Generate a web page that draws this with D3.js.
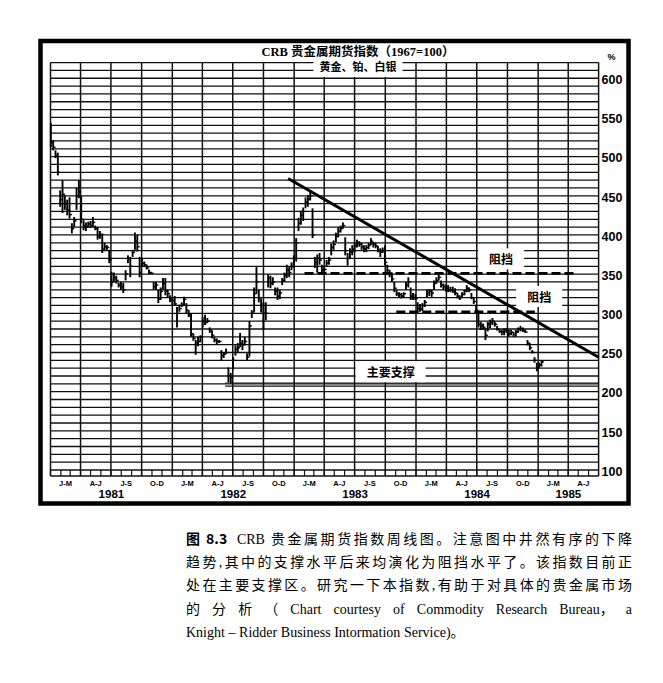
<!DOCTYPE html>
<html><head><meta charset="utf-8">
<script src="https://cdn.jsdelivr.net/npm/d3@7"></script>
<style>
html,body{margin:0;padding:0;background:#fff;}
svg{display:block;}
</style></head>
<body>
<svg id="c" width="663" height="683"></svg>
<script>
// ---------------- DATA ----------------
const title = "CRB 贵金属期货指数（1967=100）";
const subtitle = "黄金、铂、白银";
const firstWeek = "1981-01-02";   // weekly bars, one per week from here
const highs = [
543,521,508,505,457,470,451,445,448,415,
423,460,470,450,419,416,417,418,423,412,
410,405,402,390,387,381,353,352,348,339,
340,339,355,374,372,381,403,400,372,370,
366,362,356,353,340,340,330,333,345,345,
330,323,320,322,308,311,314,321,313,304,
300,274,266,270,272,295,298,294,282,278,
270,268,266,253,250,255,231,224,244,259,
262,275,266,270,249,290,304,333,359,330,
319,314,314,350,348,346,333,333,330,345,
352,362,359,365,374,396,422,431,435,448,
451,457,434,372,375,377,362,360,368,372,
389,393,403,410,412,416,397,377,383,387,
390,394,392,390,387,387,390,396,391,390,
386,383,384,387,362,355,352,340,330,327,
326,327,340,346,333,326,325,314,312,313,
317,330,331,330,342,346,351,342,338,337,
336,334,334,332,326,323,327,330,336,333,
326,320,311,300,289,287,281,289,292,294,
289,284,279,279,281,281,279,279,276,279,
282,284,282,279,266,262,253,244,237,237,
240];
const lows = [
512,508,498,476,436,428,432,425,421,402,
410,432,447,415,406,405,410,409,410,406,
394,395,377,381,381,364,334,340,338,333,
330,326,342,364,346,372,381,379,346,359,
360,356,350,350,330,330,313,317,330,323,
320,314,310,310,282,302,308,310,300,295,
270,265,247,258,263,282,285,288,275,268,
263,260,262,240,243,248,212,211,228,246,
250,257,253,259,240,245,294,301,325,314,
301,279,291,333,332,336,323,317,318,336,
340,345,346,355,358,366,405,413,418,434,
436,444,396,358,352,362,349,350,360,362,
374,381,391,397,403,408,374,361,370,374,
378,384,385,381,378,378,382,387,384,383,
378,372,377,361,350,346,340,327,322,320,
319,320,330,333,317,317,317,301,302,303,
308,320,322,321,330,338,342,333,330,328,
327,327,326,323,319,317,320,323,327,327,
318,312,300,282,279,279,266,277,281,285,
283,278,275,272,272,275,270,272,270,270,
275,277,276,275,259,253,249,237,226,230,
232];
const closes = [
518,512,502,480,445,452,440,432,426,408,
418,450,455,420,412,410,414,412,416,408,
398,400,382,385,384,368,340,345,342,336,
334,330,350,370,360,378,392,385,352,364,
362,358,352,351,334,336,318,328,338,328,
325,318,316,312,300,306,310,318,304,298,
274,268,262,264,270,290,288,290,278,272,
266,264,264,246,248,250,220,218,240,254,
256,262,260,264,244,284,300,325,340,320,
310,300,300,345,338,340,328,322,326,342,
348,355,352,360,370,390,415,425,430,442,
446,450,400,365,370,368,355,356,364,368,
384,388,398,405,408,412,380,370,378,382,
386,390,388,385,382,384,387,392,388,386,
380,378,380,365,355,350,344,332,325,324,
322,325,336,340,322,320,319,306,305,310,
314,326,328,326,338,342,346,336,334,332,
330,330,328,326,322,320,324,328,332,330,
320,315,304,286,284,282,272,286,288,290,
286,280,277,276,278,278,274,276,273,276,
280,280,278,276,262,256,250,240,230,234,
238];
const yTickValues = [100,150,200,250,300,350,400,450,500,550,600];
const quarterLabels = ["J-M","A-J","J-S","O-D"];
const yearLabels = ["1981","1982","1983","1984","1985"];
const trendLine = [{date:"1982-12-14", value:472},{date:"1985-07-01", value:244}];
const resistanceUpper = [{date:"1983-02-01", value:351},{date:"1985-04-27", value:351}];
const resistanceLower = [{date:"1983-11-03", value:302},{date:"1984-12-22", value:302}];
const supportLevels = [211, 207];
const supportFrom = "1982-06-08";
const notes = [
  {text:"阻挡", date:"1984-09-12", value:368},
  {text:"阻挡", date:"1985-01-04", value:320},
  {text:"主要支撑", date:"1983-10-17", value:224}
];
const captionLines = [
  "图 8.3  CRB 贵金属期货指数周线图。注意图中井然有序的下降",
  "趋势,其中的支撑水平后来均演化为阻挡水平了。该指数目前正",
  "处在主要支撑区。研究一下本指数,有助于对具体的贵金属市场",
  "的 分 析 （ Chart courtesy of Commodity Research Bureau， a",
  "Knight – Ridder Business Intormation Service)。"
];

// ---------------- LAYOUT ----------------
const svg = d3.select("#c");
const parse = d3.timeParse("%Y-%m-%d");
const tStart = new Date(1981,0,1), tEnd = new Date(1985,6,1);
const x = d3.scaleTime().domain([tStart,tEnd]).range([50.5,598.6]);
const y = d3.scaleLinear().domain([100,620]).range([470,62.6]);
const L = x.range()[0], R = x.range()[1];
const bandBottom = y(100) + 6;
const INK = "#111";

// outer frame
svg.append("rect").attr("x",40.5).attr("y",41).attr("width",588).attr("height",462.5)
  .attr("fill","none").attr("stroke","#000").attr("stroke-width",4.5);

// horizontal grid
const gridVals = d3.range(100, 621, 10);
svg.append("g").selectAll("line").data(gridVals).join("line")
  .attr("x1",L).attr("x2",R).attr("y1",d=>y(d)).attr("y2",d=>y(d))
  .attr("stroke",INK).attr("stroke-width",1.3);
svg.append("line").attr("x1",L).attr("x2",R).attr("y1",bandBottom).attr("y2",bandBottom)
  .attr("stroke",INK).attr("stroke-width",1.4);

// quarter verticals
const quarters = d3.timeMonth.every(3).range(tStart, d3.timeDay.offset(tEnd,1));
svg.append("g").selectAll("line").data(quarters).join("line")
  .attr("x1",d=>x(d)).attr("x2",d=>x(d)).attr("y1",y(620)).attr("y2",bandBottom)
  .attr("stroke",INK).attr("stroke-width",1.5);
// month ticks in band
const months = d3.timeMonth.range(tStart, tEnd);
svg.append("g").selectAll("line").data(months).join("line")
  .attr("x1",d=>x(d)).attr("x2",d=>x(d)).attr("y1",y(100)).attr("y2",bandBottom)
  .attr("stroke",INK).attr("stroke-width",1.2);

// right axis labels
const yAxis = d3.axisRight(y).tickValues(yTickValues).tickSize(0).tickPadding(3);
const ag = svg.append("g").attr("transform",`translate(${R},0)`).call(yAxis);
ag.select(".domain").remove();
ag.selectAll("text").attr("dy","0.42em")
  .style("font-family","'Liberation Sans',Arial,sans-serif").style("font-weight","bold")
  .style("font-size","12.5px").attr("fill","#000");
svg.append("text").attr("x",611.5).attr("y",60).attr("text-anchor","middle")
  .style("font-family","'Liberation Sans',Arial,sans-serif").style("font-weight","bold")
  .style("font-size","9px").text("%");

// quarter labels and years
const qStarts = quarters.slice(0,-1);
svg.append("g").selectAll("text").data(qStarts).join("text")
  .attr("x",d=>(x(d)+x(d3.timeMonth.offset(d,3)))/2).attr("y",486)
  .attr("text-anchor","middle")
  .style("font-family","'Liberation Sans',Arial,sans-serif").style("font-weight","bold")
  .style("font-size","7.5px").text(d=>quarterLabels[Math.floor(d.getMonth()/3)]);
svg.append("g").selectAll("text").data(yearLabels).join("text")
  .attr("x",d=>{const a=new Date(+d,0,1), b=d3.min([new Date(+d+1,0,1), tEnd]); return (x(a)+x(b))/2;})
  .attr("y",497.5).attr("text-anchor","middle")
  .style("font-family","'Liberation Sans',Arial,sans-serif").style("font-weight","bold")
  .style("font-size","11.5px").text(d=>d);

// title
const subG = svg.append("g");
svg.append("text").attr("x",358).attr("y",56).attr("text-anchor","middle")
  .style("font-family","'Liberation Serif','Noto Sans CJK SC',serif").style("font-weight","bold")
  .style("font-size","12.5px").text(title);

// support lines
svg.append("g").selectAll("line").data(supportLevels).join("line")
  .attr("x1",x(parse(supportFrom))).attr("x2",R).attr("y1",d=>y(d)).attr("y2",d=>y(d))
  .attr("stroke",INK).attr("stroke-width",1.1);

// dashed resistance lines
[resistanceUpper, resistanceLower].forEach(seg=>{
  svg.append("line")
    .attr("x1",x(parse(seg[0].date))).attr("x2",x(parse(seg[1].date)))
    .attr("y1",y(seg[0].value)).attr("y2",y(seg[1].value))
    .attr("stroke","#000").attr("stroke-width",2.6).attr("stroke-dasharray","9,4");
});

// trend line
svg.append("line")
  .attr("x1",x(parse(trendLine[0].date))).attr("x2",x(parse(trendLine[1].date)))
  .attr("y1",y(trendLine[0].value)).attr("y2",y(trendLine[1].value))
  .attr("stroke","#000").attr("stroke-width",3);

// bars
const t0 = parse(firstWeek);
const bars = highs.map((h,i)=>({date:d3.timeDay.offset(t0,7*i), high:h, low:lows[i], close:closes[i]}));
const bg = svg.append("g");
bg.selectAll("line.hl").data(bars).join("line").attr("class","hl")
  .attr("x1",d=>x(d.date)).attr("x2",d=>x(d.date))
  .attr("y1",d=>y(d.high)).attr("y2",d=>y(d.low))
  .attr("stroke","#000").attr("stroke-width",1.9);
bg.selectAll("line.cl").data(bars).join("line").attr("class","cl")
  .attr("x1",d=>x(d.date)).attr("x2",d=>x(d.date)+2.4)
  .attr("y1",d=>y(d.close)).attr("y2",d=>y(d.close))
  .attr("stroke","#000").attr("stroke-width",1.4);

// subtitle (white box over grid)
const st = subG.append("text").attr("x",358).attr("y",71).attr("text-anchor","middle")
  .style("font-family","'Noto Sans CJK SC',sans-serif").style("font-weight","bold")
  .style("font-size","11px").text(subtitle);
subG.raise();
{
  const b = st.node().getBBox();
  subG.insert("rect","text").attr("x",b.x-6).attr("y",y(620)-0.8).attr("width",b.width+12)
    .attr("height",77-y(620)+0.8).attr("fill","#fff");
}

// notes
notes.forEach(n=>{
  const g = svg.append("g");
  const t = g.append("text").attr("x",x(parse(n.date))).attr("y",y(n.value)).attr("dy","0.36em")
    .attr("text-anchor","middle")
    .style("font-family","'Noto Sans CJK SC',sans-serif").style("font-weight","bold")
    .style("font-size","12px").text(n.text);
  const b = t.node().getBBox();
  g.insert("rect","text").attr("x",b.x-11).attr("y",b.y-2).attr("width",b.width+22)
    .attr("height",b.height+4).attr("fill","#fff");
});

// caption (justified)
const cap = svg.append("g")
  .style("font-family","'Liberation Serif','Noto Sans CJK SC',serif").style("font-size","14px");
const capX0 = 186, capX1 = 632;
const capY = [544, 567, 590, 614, 637];
const isCJK = ch => /[\u2E80-\u9FFF\u3000-\u303F\uFF00-\uFFEF]/.test(ch);
const isCJKPunct = ch => /[\u3001\u3002\uFF0C]/.test(ch);
function tokenize(s){
  const out=[]; let cur="", pendingSp=0;
  const flush=()=>{ if(cur){ out.push({t:cur, sp:pendingSp}); pendingSp=0; cur=""; } };
  for(const ch of s){
    if(ch===" "){ flush(); pendingSp++; }
    else if(isCJKPunct(ch) && cur){ cur+=ch; flush(); }
    else if(isCJK(ch)){ flush(); out.push({t:ch, sp:pendingSp}); pendingSp=0; }
    else cur+=ch;
  }
  flush();
  return out;
}
captionLines.forEach((line,li)=>{
  const toks = tokenize(line);
  const justify = li < captionLines.length-1;
  const nodes = toks.map((tk,i)=>{
    const tx = cap.append("text").attr("y",capY[li]).text(tk.t);
    if(li===0 && i<2) tx.style("font-weight","bold").style("font-family","'Noto Sans CJK SC','Liberation Sans',sans-serif");
    return {tk, tx, w: tx.node().getComputedTextLength()};
  });
  const spaceW = 3.6;
  let natural = 0;
  nodes.forEach((n,i)=>{ natural += n.w + (i>0 ? n.tk.sp*spaceW : 0); });
  const extra = justify ? (capX1-capX0-natural)/(nodes.length-1) : 0;
  let cx = capX0;
  nodes.forEach((n,i)=>{
    if(i>0) cx += n.tk.sp*spaceW + extra;
    n.tx.attr("x",cx);
    cx += n.w;
  });
});
</script>
</body></html>
